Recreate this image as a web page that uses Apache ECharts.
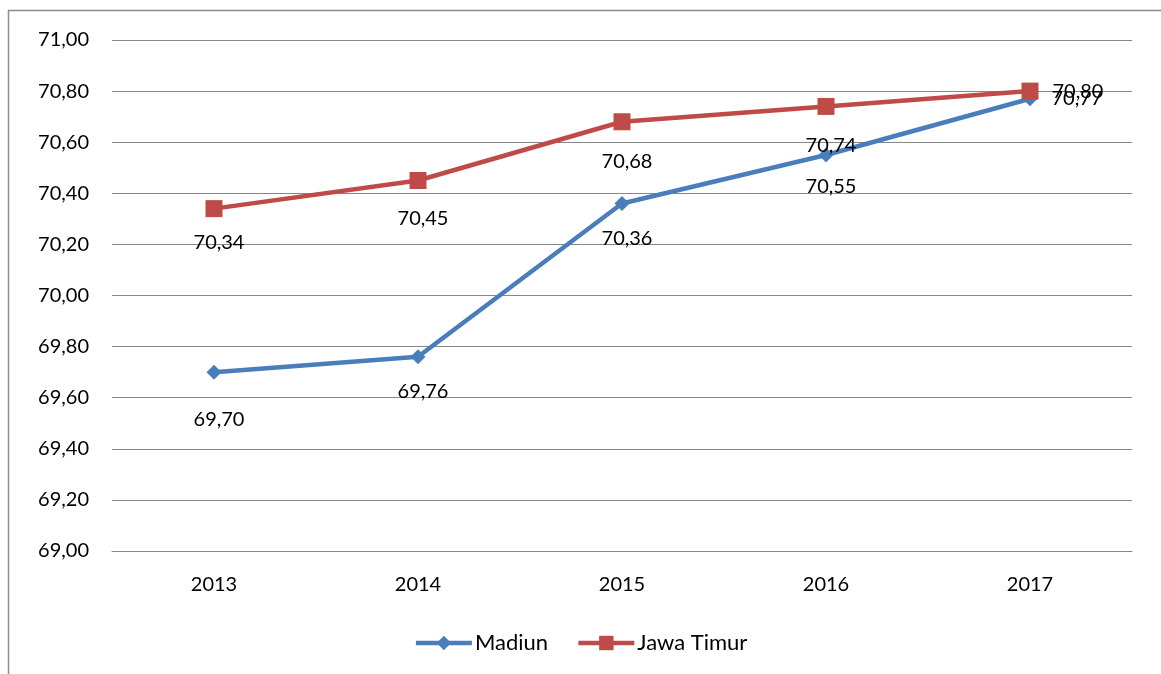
<!DOCTYPE html>
<html><head><meta charset="utf-8">
<script src="https://cdn.jsdelivr.net/npm/echarts@6/dist/echarts.min.js"></script>
<style>html,body{margin:0;padding:0;background:#fff}#c{width:1161px;height:674px}</style>
</head><body><div id="c"></div>
<script>
var categories = ['2013','2014','2015','2016','2017'];
var madiun = [69.70, 69.76, 70.36, 70.55, 70.77];
var jawaTimur = [70.34, 70.45, 70.68, 70.74, 70.80];

var FONT = 'Lato';
var FS = 20;
function fmt(v){ return Number(v).toFixed(2).replace('.', ','); }

// label placement per point (Excel-style)
var madiunLbl = [
  {position:'bottom', distance:30, offset:[5,0]},
  {position:'bottom', distance:17, offset:[5,0]},
  {position:'bottom', distance:18, offset:[5,0]},
  {position:'bottom', distance:14, offset:[5,0]},
  {position:'right', distance:14, offset:[0,0]}
];
var jatimLbl = [
  {position:'bottom', distance:15, offset:[5,0]},
  {position:'bottom', distance:20, offset:[5,0]},
  {position:'bottom', distance:21, offset:[5,0]},
  {position:'bottom', distance:21, offset:[5,0]},
  {position:'right', distance:14, offset:[0,0]}
];
function build(vals, lbls){
  return vals.map(function(v,i){
    return {value:v, label:Object.assign({show:true}, lbls[i])};
  });
}

var chart = echarts.init(document.getElementById('c'));
chart.setOption({
  animation:false,
  textStyle:{fontFamily:FONT},
  graphic:[{type:'rect', shape:{x:8.5,y:10.5,width:1170,height:700}, style:{fill:'none', stroke:'#8c8c8c', lineWidth:1.5}}],
  grid:{left:112, right:29, top:40, bottom:123},
  legend:{
    bottom:15, left:'center', itemWidth:56, itemHeight:18, itemGap:28,
    lineStyle:{width:4.5},
    textStyle:{fontFamily:FONT, fontSize:22, color:'#000', padding:[0,0,0,-2]},
    data:['Madiun','Jawa Timur']
  },
  xAxis:{
    type:'category', data:categories, boundaryGap:true,
    axisLine:{show:true, lineStyle:{color:'#868686', width:1}},
    axisTick:{show:false},
    axisLabel:{fontFamily:FONT, fontSize:FS, color:'#000', margin:24}
  },
  yAxis:{
    type:'value', min:69, max:71, interval:0.2,
    axisLine:{show:false}, axisTick:{show:false},
    splitLine:{lineStyle:{color:'#868686', width:1}},
    axisLabel:{fontFamily:FONT, fontSize:FS, color:'#000', margin:23, formatter:fmt}
  },
  series:[
    {name:'Madiun', type:'line', data:build(madiun, madiunLbl),
     symbol:'diamond', symbolSize:15,
     lineStyle:{color:'#4a7ebb', width:4.5}, itemStyle:{color:'#4a7ebb'},
     label:{fontFamily:FONT, fontSize:FS, color:'#000', formatter:function(p){return fmt(p.value);}}
    },
    {name:'Jawa Timur', type:'line', data:build(jawaTimur, jatimLbl),
     symbol:'rect', symbolSize:17,
     lineStyle:{color:'#be4b48', width:4.5}, itemStyle:{color:'#be4b48'},
     label:{fontFamily:FONT, fontSize:FS, color:'#000', formatter:function(p){return fmt(p.value);}}
    }
  ]
});
</script></body></html>
